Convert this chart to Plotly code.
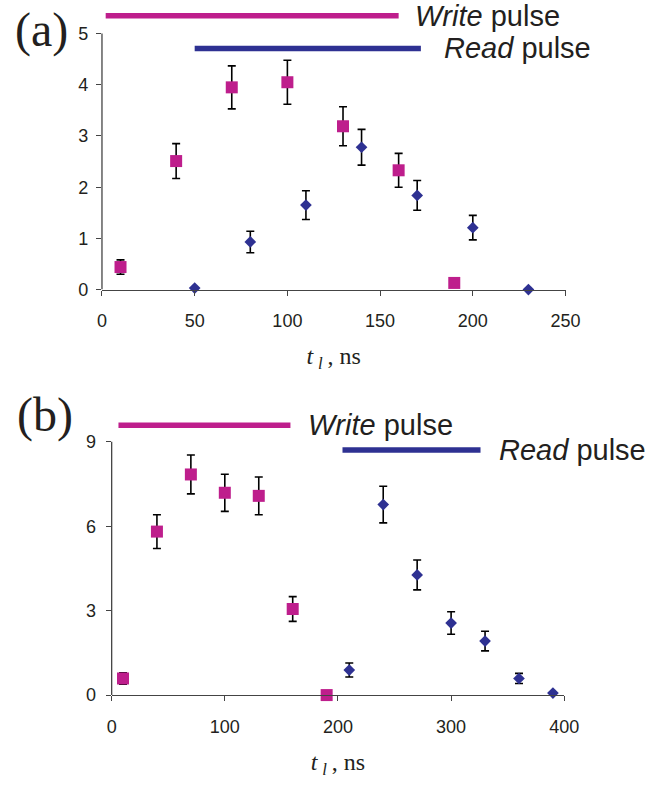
import plotly.graph_objects as go

# ---------------- data ----------------
# panel (a)
a_write_t = [10, 40, 70, 100, 130, 160, 190]
a_write_v = [0.44, 2.51, 3.95, 4.05, 3.19, 2.33, 0.13]
a_write_e = [0.14, 0.34, 0.42, 0.43, 0.38, 0.33, 0.0]
a_read_t = [50, 80, 110, 140, 170, 200, 230]
a_read_v = [0.03, 0.93, 1.65, 2.78, 1.84, 1.21, 0.0]
a_read_e = [0.0, 0.21, 0.28, 0.35, 0.29, 0.24, 0.0]
a_write_pulse_t = [2, 160]
a_write_pulse_y = [5.35, 5.35]
a_read_pulse_t = [50, 172]
a_read_pulse_y = [4.71, 4.71]
a_xticks = [0, 50, 100, 150, 200, 250]
a_yticks = [0, 1, 2, 3, 4, 5]

# panel (b)
b_write_t = [10, 40, 70, 100, 130, 160, 190]
b_write_v = [0.59, 5.81, 7.84, 7.19, 7.08, 3.06, 0.0]
b_write_e = [0.2, 0.6, 0.69, 0.66, 0.67, 0.44, 0.0]
b_read_t = [210, 240, 270, 300, 330, 360, 390]
b_read_v = [0.89, 6.77, 4.27, 2.56, 1.92, 0.59, 0.07]
b_read_e = [0.25, 0.65, 0.53, 0.4, 0.35, 0.18, 0.0]
b_write_pulse_t = [6, 158]
b_write_pulse_y = [9.59, 9.59]
b_read_pulse_t = [204, 326]
b_read_pulse_y = [8.71, 8.71]
b_xticks = [0, 100, 200, 300, 400]
b_yticks = [0, 3, 6, 9]

PINK = "#BE1E8C"
BLUE = "#2E3192"
AXIS = "#444444"
TXT = "#231F20"

W, H = 661, 789


def px_x(p):
    return p / W


def px_y(p):
    return 1 - p / H


fig = go.Figure()


def add_panel(xa, ya, wt, wv, we, rt, rv, re, wpt, wpy, rpt, rpy):
    common_err = dict(type="data", visible=True, color="black", thickness=1.6, width=4)
    fig.add_trace(go.Scatter(x=wpt, y=wpy, mode="lines", line=dict(color=PINK, width=5.5),
                             xaxis=xa, yaxis=ya, showlegend=False, hoverinfo="skip"))
    fig.add_trace(go.Scatter(x=rpt, y=rpy, mode="lines", line=dict(color=BLUE, width=5.5),
                             xaxis=xa, yaxis=ya, showlegend=False, hoverinfo="skip"))
    fig.add_trace(go.Scatter(x=wt, y=wv, mode="markers",
                             marker=dict(symbol="square", size=12, color=PINK),
                             error_y=dict(array=we, **common_err), cliponaxis=False,
                             xaxis=xa, yaxis=ya, showlegend=False))
    fig.add_trace(go.Scatter(x=rt, y=rv, mode="markers",
                             marker=dict(symbol="diamond", size=9, color=BLUE),
                             error_y=dict(array=re, **common_err), cliponaxis=False,
                             xaxis=xa, yaxis=ya, showlegend=False))


add_panel("x", "y", a_write_t, a_write_v, a_write_e, a_read_t, a_read_v, a_read_e,
          a_write_pulse_t, a_write_pulse_y, a_read_pulse_t, a_read_pulse_y)
add_panel("x2", "y2", b_write_t, b_write_v, b_write_e, b_read_t, b_read_v, b_read_e,
          b_write_pulse_t, b_write_pulse_y, b_read_pulse_t, b_read_pulse_y)

tickfont = dict(family="Liberation Sans, Arial, sans-serif", size=18, color=TXT)
title_font = dict(family="Liberation Serif, Times New Roman, serif", size=24, color=TXT)
xtitle = "<i>t</i>&#8201;<sub><i>l</i></sub>&#8201;, ns"

axis_common = dict(showgrid=False, zeroline=False, ticks="outside", ticklen=5,
                   tickwidth=1.3, tickcolor=AXIS, tickfont=tickfont)

fig.update_layout(
    width=W, height=H, margin=dict(l=0, r=0, t=0, b=0),
    plot_bgcolor="white", paper_bgcolor="white",
    xaxis=dict(domain=[px_x(100), px_x(578)], range=[0, 250], tickvals=a_xticks,
               showline=True, linecolor=AXIS, linewidth=1.3, anchor="y",
               ticklabelstandoff=10,
               title=dict(text=xtitle, font=title_font, standoff=16), **axis_common),
    yaxis=dict(domain=[px_y(293.3), px_y(5.5)], range=[0, 5.55], tickvals=a_yticks,
               showline=False, anchor="x", ticklabelstandoff=4, **axis_common),
    xaxis2=dict(domain=[px_x(110), px_x(576.7)], range=[0, 400], tickvals=b_xticks,
                showline=True, linecolor=AXIS, linewidth=1.3, anchor="y2",
                ticklabelstandoff=10,
                title=dict(text=xtitle, font=title_font, standoff=17), **axis_common),
    yaxis2=dict(domain=[px_y(704), px_y(424.7)], range=[0, 9.8], tickvals=b_yticks,
                showline=False, anchor="x2", ticklabelstandoff=6, **axis_common),
)

# y-axis lines ending at the top tick
fig.add_shape(type="line", xref="paper", yref="y", x0=px_x(100), x1=px_x(100),
              y0=0, y1=a_yticks[-1], line=dict(color=AXIS, width=1.3))
fig.add_shape(type="line", xref="paper", yref="y2", x0=px_x(110), x1=px_x(110),
              y0=0, y1=b_yticks[-1], line=dict(color=AXIS, width=1.3))

lab_font = dict(family="Liberation Sans, Arial, sans-serif", size=29, color=TXT)
fig.add_annotation(x=168, y=a_write_pulse_y[0], xref="x", yref="y", text="<i>Write</i> pulse",
                   showarrow=False, xanchor="left", yanchor="middle", font=lab_font)
fig.add_annotation(x=183.5, y=a_read_pulse_y[0], xref="x", yref="y",
                   text="<i>Read</i> pulse", showarrow=False, xanchor="left",
                   yanchor="middle", font=lab_font)
fig.add_annotation(x=171.5, y=b_write_pulse_y[0], xref="x2", yref="y2", text="<i>Write</i> pulse",
                   showarrow=False, xanchor="left", yanchor="middle", font=lab_font)
fig.add_annotation(x=341, y=b_read_pulse_y[0], xref="x2", yref="y2", text="<i>Read</i> pulse",
                   showarrow=False, xanchor="left", yanchor="middle", font=lab_font)

panel_font = dict(family="Liberation Serif, Times New Roman, serif", size=48, color=TXT)
fig.add_annotation(x=px_x(8), y=px_y(30), xref="paper", yref="paper", text="(a)",
                   showarrow=False, xanchor="left", yanchor="middle", font=panel_font)
fig.add_annotation(x=px_x(10), y=px_y(420), xref="paper", yref="paper", text="(b)",
                   showarrow=False, xanchor="left", yanchor="middle", font=panel_font)

fig.write_html("out.html")
